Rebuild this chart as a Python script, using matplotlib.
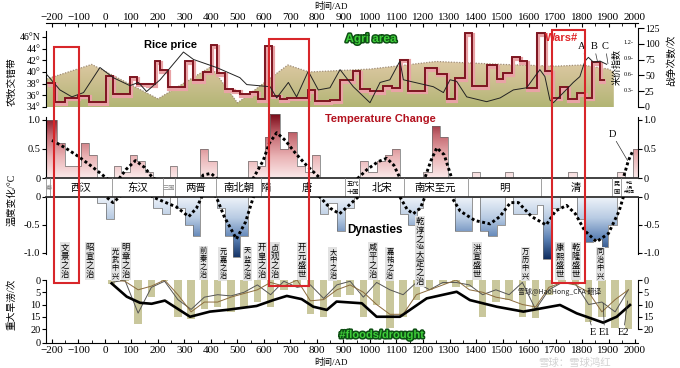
import numpy as np
import matplotlib
matplotlib.use("Agg")
import matplotlib.pyplot as plt
from matplotlib.colors import LinearSegmentedColormap
from matplotlib.patches import Rectangle
from matplotlib.transforms import blended_transform_factory, offset_copy
import matplotlib.patheffects as pe

plt.rcParams['font.family'] = ['Liberation Serif', 'Noto Sans CJK SC', 'DejaVu Sans']

# ---------------- data ----------------
# agro-pastoral boundary (deg N), upper edge of the filled area
agri_year = [-220, -50, 200, 400, 500, 690, 770, 1000, 1250, 1500, 1700, 1800, 1900, 1920]
agri_lat = [38.8, 41.3, 35.4, 40.9, 34.7, 41.2, 40.0, 40.5, 41.8, 41.3, 41.0, 41.2, 40.5, 40.0]

# number of wars per period (step series, right axis)
wars_edges = [-220, -189, -151, -101, -59, 4, 31, 94, 120, 157, 189, 208, 239, 302, 331, 371,
              399, 421, 453, 484, 509, 547, 579, 604, 629, 660, 686, 730, 767, 792, 849, 887,
              937, 962, 1000, 1050, 1082, 1113, 1145, 1208, 1252, 1289, 1321, 1358, 1384, 1440,
              1478, 1503, 1535, 1566, 1591, 1629, 1660, 1686, 1717, 1748, 1780, 1811, 1837,
              1868, 1887]
wars_vals = [38, 8, 15, 18, 8, 49, 21, 47, 37, 36, 72, 58, 31, 73, 43, 56, 98, 54, 28, 26,
             20, 23, 13, 96, 18, 13, 15, 15, 27, 9, 11, 43, 57, 28, 25, 33, 30, 75, 26, 62,
             53, 12, 46, 117, 33, 66, 44, 54, 79, 73, 30, 117, 57, 15, 32, 12, 22, 15, 71, 43]

# rice price index
rice_year = [-220, -170, -125, -81, -19, 31, 94, 126, 157, 208, 296, 334, 421, 509, 535,
             623, 648, 692, 723, 767, 805, 849, 887, 937, 1000, 1038, 1075, 1113, 1126, 1239,
             1277, 1302, 1327, 1365, 1440, 1491, 1541, 1591, 1641, 1660, 1679, 1692, 1730,
             1767, 1792, 1811, 1824, 1843, 1868, 1893]
rice_idx = [0.61, 0.32, 0.19, 0.27, 0.74, 0.55, 0.40, 0.46, 0.29, 0.51, 1.03, 0.89, 0.74,
            0.55, 0.42, 0.38, 0.17, 0.46, 0.19, 0.67, 0.32, 0.36, 0.70, 0.38, 0.08, 0.46,
            0.51, 0.86, 0.51, 0.38, 0.27, 0.51, 0.48, 0.19, 0.10, 0.17, 0.32, 0.36, 0.70,
            0.57, 0.13, 0.08, 0.27, 0.46, 0.57, 0.86, 0.93, 0.84, 0.86, 0.80]

# temperature anomaly per period (deg C)
temp_edges = [-221, -180, -150, -92, -59, -29, 4, 34, 62, 94, 120, 151, 183, 214, 245, 270,
              302, 333, 358, 390, 421, 453, 484, 509, 541, 572, 604, 623, 660, 692, 723, 755,
              780, 811, 843, 874, 906, 938, 962, 993, 1025, 1056, 1082, 1113, 1145, 1176,
              1201, 1233, 1264, 1296, 1321, 1384, 1415, 1447, 1478, 1509, 1541, 1566, 1629,
              1654, 1686, 1717, 1748, 1780, 1811, 1843, 1874, 1899, 1931, 1962, 1994, 2010]
temp_vals = [1.0, 0.6, 0.2, 0.6, 0.4, -0.1, -0.4, 0.2, 0.1, 0.4, 0.3, 0.1, -0.2, -0.3, 0.2,
             -0.2, -0.5, -0.7, 0.5, 0.3, -0.2, -0.7, -1.08, -0.7, 0.3, 0.2, 0.7, 1.1, 0.5,
             0.8, 0.2, 0.1, 0.4, -0.3, -0.1, -0.6, -0.2, 0.0, 0.3, 0.1, 0.3, 0.4, 0.5, -0.3,
             -0.5, -0.2, 0.1, 0.9, 0.7, 0.0, -0.6, 0.1, -0.6, -0.7, -0.5, 0.1, -0.3, -0.3,
             -0.15, -1.1, -0.2, 0.0, 0.1, -0.4, -0.8, -0.75, -0.9, -0.5, 0.1, 0.0, 0.5]

# smoothed temperature (dotted)
tline_year = [-200, -150, -100, -50, 5, 30, 55, 80, 115, 150, 180, 220, 270, 316, 345, 370,
              400, 420, 450, 496, 530, 560, 597, 620, 648, 680, 720, 760, 811, 850, 885, 920,
              955, 990, 1030, 1063, 1090, 1113, 1140, 1163, 1190, 1207, 1230, 1252, 1280,
              1308, 1340, 1396, 1453, 1490, 1530, 1560, 1610, 1665, 1700, 1742, 1775, 1810,
              1855, 1900, 1940, 1956, 1975, 1990]
tline_val = [0.65, 0.52, 0.37, 0.2, 0.0, -0.1, 0.0, 0.15, 0.3, 0.18, 0.0, -0.08, -0.18,
             -0.35, -0.2, 0.05, 0.08, 0.0, -0.35, -0.75, -0.45, 0.0, 0.3, 0.6, 0.78, 0.65,
             0.42, 0.22, 0.0, -0.2, -0.3, -0.15, 0.0, 0.15, 0.28, 0.34, 0.22, 0.0, -0.22,
             -0.3, -0.2, 0.0, 0.3, 0.52, 0.4, 0.0, -0.25, -0.42, -0.48, -0.35, -0.1, -0.1,
             -0.35, -0.5, -0.25, -0.15, -0.3, -0.6, -0.8, -0.65, -0.25, 0.0, 0.3, 0.45]

# dynasties
dyn_names = ['秦', '西汉', '东汉', '三国', '两晋', '南北朝', '隋', '唐', '五代\n十国', '北宋',
             '南宋至元', '明', '清', '民\n国', '中华\n人民\n共和国']
dyn_start = [-221, -206, 25, 220, 265, 420, 589, 618, 907, 960, 1127, 1368, 1644, 1912, 1949]
dyn_end = 2010
dyn_small = ['秦', '三国', '五代\n十国', '民\n国', '中华\n人民\n共和国']

# prosperous reigns (label, year, top pixel row of the label)
reign_names = ['文景之治', '昭宣之治', '光武中兴', '明章之治', '前秦之治', '元嘉之治', '天监之治',
               '开皇之治', '贞观之治', '开元盛世', '大中之治', '咸平之治', '嘉祐之治', '乾淳之治',
               '大定之治', '洪宣盛世', '万历中兴', '康熙盛世', '乾隆盛世', '同治中兴']
reign_year = [-151, -57, 38, 79, 370, 445, 536, 592, 642, 743, 860, 1011, 1075, 1189, 1189,
              1404, 1585, 1717, 1777, 1868]
reign_top = [243, 243, 248, 243, 247, 248, 248, 243, 243, 243, 248, 243, 248, 217, 250, 243,
             248, 243, 243, 248]

# major floods / droughts
flood_year = list(range(25, 2000, 50))
flood_count = [1.5, 0.5, 18, 7, 0.5, 15, 16, 12, 11, 13, 11, 9, 11, 4, 3, 14, 15, 7, 6, 15,
               10, 19.5, 15, 8, 4, 1.5, 3, 3, 15, 9, 8, 15, 15.5, 6, 1.5, 2, 17, 15, 19.5, 20]
flood_a = [1, 0, 13.5, 3, 0.5, 8, 12, 7, 6, 6.5, 5, 2, 6, 0.5, 3, 2, 7.5, 2, 0.5, 7, 1, 4, 6,
           1, 4, 1, 1, 2, 6, 4, 6, 1, 12, 4, 1, 1.5, 10, 9, 13, 4]
flood_b = [0, 0.5, 4, 2.5, 0, 6, 13, 9, 9, 7, 5.5, 4, 1, 2.5, 0, 8.5, 8, 4, 2, 5, 10, 14, 14,
           6, 4, 2, 0, 4, 5, 7, 8, 10, 11, 3, 1, 2, 5, 13, 8, 4]
total_year = [25, 82, 132, 176, 226, 321, 396, 459, 572, 635, 686, 742, 786, 837, 874, 969,
              1025, 1113, 1214, 1327, 1377, 1478, 1579, 1717, 1780, 1880, 1931, 1981]
total_val = [1.4, 6.8, 9.3, 9.7, 8.4, 15, 12.9, 12.2, 10.6, 8.2, 6.5, 7.8, 10.9, 12.2, 8.8,
             9.5, 15, 15, 7.5, 4.8, 8.2, 10.9, 12.9, 10.2, 13.6, 17.4, 15, 10.2]

# highlighted periods (red frames): start year, end year
hl_start = [-192, 619, 1687]
hl_end = [-98, 770, 1811]
hl_top = [47, 39, 30]   # pixel row of frame top
hl_bottom = [283, 286, 283]

# ---------------- layout ----------------
W, H = 680, 368
X0, X1 = 46, 638
YEAR_LO, YEAR_HI = -222.6, 2011.3

fig = plt.figure(figsize=(W / 100, H / 100), dpi=100)
fig.patch.set_facecolor('white')


def add_panel(top, bottom):
    ax = fig.add_axes([X0 / W, 1 - bottom / H, (X1 - X0) / W, (bottom - top) / H])
    ax.set_xlim(YEAR_LO, YEAR_HI)
    ax.patch.set_visible(False)
    return ax


def gradient_fill(ax, clip, cmap, lo, hi, z=1):
    g = np.linspace(0, 1, 256).reshape(-1, 1)
    im = ax.imshow(g, extent=[YEAR_LO, YEAR_HI, lo, hi], origin='lower', aspect='auto',
                   cmap=cmap, zorder=z, interpolation='bilinear')
    if isinstance(clip, tuple):
        im.set_clip_path(*clip)
    else:
        im.set_clip_path(clip)


def fy(py):
    return 1 - py / H


warm = LinearSegmentedColormap.from_list('warm', ['#fbeaea', '#eab3b5', '#c56a72', '#7a0a18'])
cool = LinearSegmentedColormap.from_list('cool', ['#0b285a', '#5a80b4', '#b8cbe3', '#eef3f9'])
agri_cmap = LinearSegmentedColormap.from_list('agri', ['#b2b574', '#cbbf8f', '#e0cba7'])
sans = ['Liberation Sans', 'DejaVu Sans']
cjk = ['Noto Sans CJK SC', 'DejaVu Sans']

# top time axis
ax_xt = add_panel(23, 24)
ax_xt.set_yticks([])
for s in ['left', 'right', 'bottom']:
    ax_xt.spines[s].set_visible(False)
ax_xt.xaxis.tick_top()
ax_xt.set_xticks(range(-200, 2001, 100))
ax_xt.set_xticks(range(-200, 2001, 50), minor=True)
ax_xt.tick_params(axis='x', which='major', direction='in', length=3, labelsize=8, pad=1)
ax_xt.tick_params(axis='x', which='minor', direction='in', length=2)
ax_xt.spines['top'].set_linewidth(0.8)

# ---- agri / wars / rice panel ----
ax_top = add_panel(28, 107)
ax_top.set_ylim(34, 47.54)
area = ax_top.fill_between(agri_year, 34, agri_lat, facecolor='none', edgecolor='none')
gradient_fill(ax_top, (area.get_paths()[0], ax_top.transData), agri_cmap, 34, 42.3)
ax_top.plot(agri_year, agri_lat, color='#a08c76', lw=0.9, ls=(0, (1, 1.2)))
ax_top.set_xlim(YEAR_LO, YEAR_HI)
ax_top.set_ylim(34, 47.54)
ax_top.set_xticks([])
ax_top.set_yticks(range(34, 47, 2), ['34°', '36°', '38°', '40°', '42°', '44°', '46°N'])
ax_top.tick_params(axis='y', labelsize=7, length=3, pad=1)
for s in ['top', 'right', 'bottom']:
    ax_top.spines[s].set_visible(False)
ax_top.spines['left'].set_bounds(34, 47)

ax_w = ax_top.twinx()
ax_w.set_ylim(0, 125)
shadow = offset_copy(ax_w.transData, fig=fig, x=1.0, y=-1.8, units='dots')
ax_w.stairs(wars_vals, wars_edges, baseline=None, color='#e9a3a6', lw=3.0, transform=shadow)
ax_w.stairs(wars_vals, wars_edges, baseline=None, color='#7e1520', lw=1.4)
ax_w.set_yticks(range(0, 126, 25))
ax_w.tick_params(axis='y', labelsize=7, length=4, pad=1)
for s in ['top', 'left', 'bottom']:
    ax_w.spines[s].set_visible(False)

ax_r = ax_top.twinx()
ax_r.set_ylim(0, 1.48)
ax_r.plot(rice_year, rice_idx, color='#222222', lw=0.7)
ax_r.set_yticks([])
for s in ax_r.spines.values():
    s.set_visible(False)
tr_r = blended_transform_factory(ax_r.transAxes, ax_r.transData)
for v in [0.3, 0.6, 0.9, 1.2]:
    ax_r.text(0.992, v, f'{v:.1f}-', transform=tr_r, ha='right', va='center', fontsize=4.5)
for lab, tx, px_, py_ in [('A', 1800, 1815, 0.88), ('B', 1846, 1858, 0.86), ('C', 1888, 1898, 0.81)]:
    ax_r.annotate(lab, xy=(px_, py_), xytext=(tx, 1.05), fontsize=7.5, ha='center', va='bottom',
                  arrowprops=dict(arrowstyle='-', lw=0.5, color='#333333', shrinkA=0, shrinkB=0))

# ---- temperature upper ----
pos_vals = np.clip(temp_vals, 0, None)
neg_vals = np.clip(temp_vals, None, 0)

ax_tu = add_panel(114, 178)
ax_tu.set_ylim(0, 1.103)
clip_u = ax_tu.stairs(pos_vals, temp_edges, baseline=0, fill=True, facecolor='none',
                      edgecolor='none')
gradient_fill(ax_tu, clip_u, warm, 0, 1.103)
ax_tu.stairs(pos_vals, temp_edges, baseline=0, color='#6a6a6a', lw=0.5, zorder=2)
ax_tu.plot(tline_year, tline_val, color='black', lw=2.1, ls=(0, (1, 0.9)), zorder=3)
ax_tu.set_xlim(YEAR_LO, YEAR_HI)
ax_tu.set_ylim(0, 1.103)
ax_tu.set_xticks([])
ax_tu.set_yticks([0, 0.5, 1.0], ['0', '0.5', '1.0'])
ax_tu.tick_params(axis='y', labelsize=7.5, length=3, pad=1, right=True, labelright=True)
ax_tu.spines['top'].set_visible(False)
ax_tu.spines['bottom'].set_color('#333333')
ax_tu.spines['bottom'].set_linewidth(1.3)
ax_tu.spines['left'].set_bounds(0, 1.05)
ax_tu.spines['right'].set_bounds(0, 1.05)
ax_tu.annotate('D', xy=(1972, 0.3), xytext=(1913, 0.68), fontsize=7.5, ha='center',
               va='bottom', annotation_clip=False,
               arrowprops=dict(arrowstyle='-', lw=0.5, color='#333333', shrinkA=0, shrinkB=0))

# ---- dynasty band ----
ax_dyn = add_panel(178, 197)
ax_dyn.set_ylim(0, 1)
ax_dyn.axis('off')
ax_dyn.vlines(dyn_start, 0, 1, color='#a0a0a0', lw=0.7)
ends = dyn_start[1:] + [dyn_end]
for name, a, b in zip(dyn_names, dyn_start, ends):
    mid = (a + b) / 2
    if name in dyn_small:
        size = 2.6 if len(name) > 5 else 4.5
        col = '#888888' if name in ['三国', '秦'] else 'black'
        ax_dyn.text(mid, 0.5, name, ha='center', va='center', fontsize=size, family=cjk,
                    color=col, linespacing=1.0)
    else:
        ax_dyn.text(mid, 0.47, name, ha='center', va='center', fontsize=7.5, family=cjk)

# ---- temperature lower ----
ax_tl = add_panel(197, 260)
ax_tl.set_ylim(-1.125, 0)
clip_l = ax_tl.stairs(neg_vals, temp_edges, baseline=0, fill=True, facecolor='none',
                      edgecolor='none')
gradient_fill(ax_tl, clip_l, cool, -1.125, 0)
ax_tl.stairs(neg_vals, temp_edges, baseline=0, color='#6a6a6a', lw=0.5, zorder=2)
ax_tl.plot(tline_year, tline_val, color='black', lw=2.1, ls=(0, (1, 0.9)), zorder=3)
ax_tl.set_xlim(YEAR_LO, YEAR_HI)
ax_tl.set_ylim(-1.125, 0)
ax_tl.set_xticks([])
ax_tl.set_yticks([-1.0, -0.5, 0], ['-1.0', '-0.5', '0'])
ax_tl.tick_params(axis='y', labelsize=7.5, length=3, pad=1, right=True, labelright=True)
ax_tl.spines['bottom'].set_visible(False)
ax_tl.spines['top'].set_color('#333333')
ax_tl.spines['top'].set_linewidth(1.3)
ax_tl.spines['left'].set_bounds(-1.02, 0)
ax_tl.spines['right'].set_bounds(-1.02, 0)

# ---- floods / droughts ----
ax_fl = add_panel(280, 343)
ax_fl.set_ylim(25.71, 0)
ax_fl.bar(flood_year, flood_count, width=28, color='#c9c79c', zorder=1)
ax_fl.plot(flood_year, flood_a, color='#555555', lw=0.7, zorder=2)
ax_fl.plot(flood_year, flood_b, color='#8b6b3d', lw=0.7, zorder=2)
ax_fl.plot(total_year, total_val, color='black', lw=1.9, zorder=3)
ax_fl.set_xlim(YEAR_LO, YEAR_HI)
ax_fl.set_xticks(range(-200, 2001, 100))
ax_fl.set_xticks(range(-200, 2001, 50), minor=True)
ax_fl.tick_params(axis='x', which='major', direction='in', length=3, labelsize=8, pad=2)
ax_fl.tick_params(axis='x', which='minor', direction='in', length=2)
ax_fl.set_yticks([0, 5, 10, 15, 20, 25.71], ['0', '5', '10', '15', '20', '0'])
ax_fl.tick_params(axis='y', labelsize=7.5, length=3, pad=1)
ax_fl.spines['top'].set_visible(False)
ax_fl.spines['right'].set_visible(False)
ax_fl2 = ax_fl.twinx()
ax_fl2.set_ylim(25.71, 0)
ax_fl2.set_yticks([0, 5, 10, 15, 20])
ax_fl2.tick_params(axis='y', labelsize=7.5, length=3, pad=1)
for s in ['top', 'left', 'bottom']:
    ax_fl2.spines[s].set_visible(False)
ax_fl2.spines['right'].set_bounds(0, 20)
for lab, tx, px_, py_ in [('E', 1842, 1830, 16.5), ('E1', 1885, 1880, 9.5), ('E2', 1957, 1972, 8.5)]:
    ax_fl.annotate(lab, xy=(px_, py_), xytext=(tx, 23.2), fontsize=7.5, ha='center',
                   va='bottom', annotation_clip=False,
                   arrowprops=dict(arrowstyle='-', lw=0.5, color='#333333', shrinkA=0, shrinkB=0))
ax_fl.text(1560, 4.8, '雪球@HaoHong_CFA 翻译', fontsize=5, family=cjk, va='center',
           ha='left', color='#222222', zorder=4)

# ---- reign labels ----
tr_reign = blended_transform_factory(ax_tl.transData, fig.transFigure)
for name, yr, top in zip(reign_names, reign_year, reign_top):
    small = name.endswith('中兴') or name in ['元嘉之治', '天监之治', '前秦之治', '嘉祐之治', '大中之治']
    fig.text(yr, fy(top), '\n'.join(name), transform=tr_reign, ha='center', va='top',
             fontsize=5.2 if small else 6.0, family=cjk, linespacing=1.02,
             bbox=dict(boxstyle='square,pad=0.12', fc='#e2e2e2', ec='none'))

# ---- highlight frames ----
tr_hl = blended_transform_factory(ax_top.transData, fig.transFigure)
for a, b, t, bt in zip(hl_start, hl_end, hl_top, hl_bottom):
    fig.add_artist(Rectangle((a, fy(bt)), b - a, (bt - t) / H, transform=tr_hl,
                             fill=False, ec='#d8262a', lw=1.5, zorder=5))

# ---- titles and axis labels ----
fig.text(171 / W, fy(45), 'Rice price', family=sans, fontsize=8, fontweight='bold',
         ha='center', va='center')
fig.text(371 / W, fy(39), 'Agri area', family=sans, fontsize=8.5, fontweight='bold',
         ha='center', va='center', color='#3fcf3a',
         path_effects=[pe.withStroke(linewidth=2.2, foreground='#0e4f14')])
fig.text(562 / W, fy(38), 'Wars#', family=sans, fontsize=8, fontweight='bold',
         ha='center', va='center', color='#e0262a', zorder=6)
fig.text(380 / W, fy(119), 'Temperature Change', family=sans, fontsize=8, fontweight='bold',
         ha='center', va='center', color='#b3121f')
fig.text(375 / W, fy(230), 'Dynasties', family=sans, fontsize=8.5, fontweight='bold',
         ha='center', va='center')
fig.text(382 / W, fy(335), '#floods/drought', family=sans, fontsize=8, fontweight='bold',
         ha='center', va='center', color='#3fcf3a',
         path_effects=[pe.withStroke(linewidth=2.2, foreground='#0e4f14')])

fig.text(331 / W, fy(6), '时间/AD', fontsize=6.5, ha='center', va='center')
fig.text(331 / W, fy(362), '时间/AD', fontsize=6.5, ha='center', va='center')
fig.text(12 / W, fy(82), '农牧交错带', rotation=90, fontsize=7, ha='center', va='center')
fig.text(12 / W, fy(200), '温度变化/°C', rotation=90, fontsize=7, ha='center', va='center')
fig.text(12 / W, fy(304), '重大旱涝/次', rotation=90, fontsize=7, ha='center', va='center')
fig.text(617 / W, fy(67), '米价指数', rotation=90, fontsize=6.5, ha='center', va='center')
fig.text(671 / W, fy(60), '战争次数/次', rotation=90, fontsize=7, ha='center', va='center')
fig.text(575 / W, fy(362.5), '雪球：雪球鸿红', fontsize=7.5, family=cjk, ha='center',
         va='center', color='#c8c8c8', alpha=0.8)

fig.savefig('out.png', dpi=100)
